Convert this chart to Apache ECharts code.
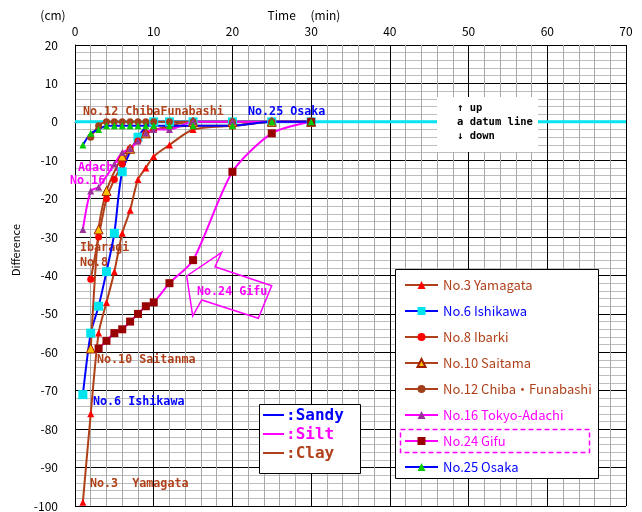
<!DOCTYPE html>
<html>
<head>
<meta charset="utf-8">
<script src="https://cdn.jsdelivr.net/npm/echarts@6/dist/echarts.min.js"></script>
<style>
  html, body { margin: 0; padding: 0; background: #fff; }
  #chart { width: 642px; height: 512px; }
</style>
</head>
<body>
<div id="chart"></div>
<script>
// Recovery of water level (cm, relative to the datum line) over time (min)
const yamagataT = [1, 2, 3, 4, 5, 6, 7, 8, 9, 10, 12, 15, 20, 25, 30];
const yamagataD = [-99, -76, -55, -47, -39, -29, -23, -15, -12, -9, -6, -2, -1, 0, 0];

const ishikawaT = [1, 2, 3, 4, 5, 6, 8, 10, 12, 15, 20, 25, 30];
const ishikawaD = [-71, -55, -48, -39, -29, -13, -4, 0, 0, 0, 0, 0, 0];

const ibarakiT = [2, 3, 4, 5, 6, 7, 8, 9, 10, 15, 20, 25, 30];
const ibarakiD = [-41, -30, -20, -15, -11, -7, -5, -3, -2, -1, -1, 0, 0];

const saitamaT = [2, 3, 4, 6, 7, 9, 15, 20, 25, 30];
const saitamaD = [-59, -28, -18, -9, -7, -3, 0, 0, 0, 0];

const chibaT = [2, 3, 4, 5, 6, 7, 8, 9, 10, 12, 15, 20, 25, 30];
const chibaD = [-4, -1, 0, 0, 0, 0, 0, 0, 0, 0, 0, 0, 0, 0];

const adachiT = [1, 2, 3, 5, 6, 7, 8, 9, 10, 12, 15, 20, 25, 30];
const adachiD = [-28, -18, -17, -11, -8, -7, -5, -3, -2, -2, 0, 0, 0, 0];

const gifuT = [3, 4, 5, 6, 7, 8, 9, 10, 12, 15, 20, 25, 30];
const gifuD = [-59, -57, -55, -54, -52, -50, -48, -47, -42, -36, -13, -3, 0];

const osakaT = [1, 2, 3, 4, 5, 6, 7, 8, 9, 10, 12, 15, 20, 25, 30];
const osakaD = [-6, -3, -2, -1, -1, -1, -1, -1, -1, -1, -1, -1, -1, 0, 0];

const legendNames = ['No.3 Yamagata', 'No.6 Ishikawa', 'No.8 Ibarki', 'No.10 Saitama',
  'No.12 Chiba\u30FBFunabashi', 'No.16 Tokyo-Adachi', 'No.24 Gifu', 'No.25 Osaka'];

const datumT = [0, 70];
const datumD = [0, 0];

const BROWN = '#b0401a';
const BLUE = '#0000ff';
const MAGENTA = '#ff00ff';
const CYAN = '#00e4f0';

function pairs(t, d) { return t.map((v, i) => [v, d[i]]); }

function lineSeries(name, t, d, lineColor, symbol, symbolSize, fill, border) {
  return {
    name: name,
    type: 'line',
    data: pairs(t, d),
    smooth: 0.25,
    symbol: symbol,
    symbolSize: symbolSize,
    lineStyle: { color: lineColor, width: 2 },
    itemStyle: { color: fill, borderColor: border || fill, borderWidth: border ? 1 : 0 },
    emphasis: { disabled: true },
    animation: false
  };
}

const chart = echarts.init(document.getElementById('chart'), null, { renderer: 'canvas' });

const FONT = '"Noto Sans CJK JP", "Noto Sans", sans-serif';
const MONO = '"DejaVu Sans Mono", monospace';

function label(text, x, y, color, size, font) {
  return {
    type: 'text', x: x, y: y, z: 1,
    style: { text: text, fill: color, font: 'bold ' + (size || 12) + 'px ' + (font || MONO), textVerticalAlign: 'middle' }
  };
}

const option = {
  backgroundColor: '#fff',
  animation: false,
  grid: { left: 75, right: 16, top: 45, bottom: 5, containLabel: false },
  xAxis: {
    type: 'value', position: 'top', min: 0, max: 70, interval: 10,
    axisLine: { show: true, lineStyle: { color: '#000', width: 1 } },
    axisTick: { show: false },
    axisLabel: { color: '#000', fontSize: 12, fontFamily: FONT, margin: 8 },
    splitLine: { show: true, lineStyle: { color: '#000', width: 1 } },
    minorTick: { show: false, splitNumber: 5 },
    minorSplitLine: { show: true, lineStyle: { color: '#a8a8a8', width: 1 } }
  },
  yAxis: {
    type: 'value', min: -100, max: 20, interval: 10,
    axisLine: { show: true, lineStyle: { color: '#000', width: 1 } },
    axisTick: { show: false },
    axisLabel: { color: '#000', fontSize: 12, fontFamily: FONT, margin: 17 },
    splitLine: { show: true, lineStyle: { color: '#000', width: 1 } },
    minorTick: { show: false, splitNumber: 5 },
    minorSplitLine: { show: true, lineStyle: { color: '#bdbdbd', width: 1 } }
  },
  legend: {
    data: [
      { name: legendNames[0], textStyle: { color: BROWN } },
      { name: legendNames[1], textStyle: { color: BLUE } },
      { name: legendNames[2], textStyle: { color: BROWN } },
      { name: legendNames[3], textStyle: { color: BROWN } },
      { name: legendNames[4], textStyle: { color: BROWN } },
      { name: legendNames[5], textStyle: { color: MAGENTA } },
      { name: legendNames[6], textStyle: { color: MAGENTA } },
      { name: legendNames[7], textStyle: { color: BLUE } }
    ],
    orient: 'vertical',
    left: 404, top: 277,
    padding: 0,
    itemWidth: 33, itemHeight: 10, itemGap: 10,
    selectedMode: false,
    textStyle: { fontSize: 13, fontFamily: FONT, lineHeight: 16 },
    z: 10
  },
  graphic: [
    // legend frame
    { type: 'rect', z: 8, shape: { x: 395.5, y: 269.5, width: 203, height: 209 },
      style: { fill: '#fff', stroke: '#000', lineWidth: 1 } },
    { type: 'rect', z: 12, shape: { x: 400.5, y: 429.5, width: 189, height: 23 },
      style: { fill: 'none', stroke: MAGENTA, lineWidth: 1.5, lineDash: [5, 3] } },

    // soil type key
    { type: 'rect', z: 8, shape: { x: 259.5, y: 404.5, width: 101, height: 69 },
      style: { fill: '#fff', stroke: '#000', lineWidth: 1 } },
    { type: 'line', z: 9, shape: { x1: 263, y1: 415, x2: 284, y2: 415 }, style: { stroke: BLUE, lineWidth: 2 } },
    { type: 'line', z: 9, shape: { x1: 263, y1: 434, x2: 284, y2: 434 }, style: { stroke: MAGENTA, lineWidth: 2 } },
    { type: 'line', z: 9, shape: { x1: 263, y1: 453, x2: 284, y2: 453 }, style: { stroke: BROWN, lineWidth: 2 } },
    Object.assign(label(':Sandy', 286, 416, BLUE, 16), { z: 9 }),
    Object.assign(label(':Silt', 286, 435, MAGENTA, 16), { z: 9 }),
    Object.assign(label(':Clay', 286, 454, BROWN, 16), { z: 9 }),

    // datum line note
    { type: 'rect', z: 8, shape: { x: 437, y: 97, width: 101, height: 55 }, style: { fill: '#fff' } },
    Object.assign(label('\u2191 up', 457, 108, '#000', 10.5), { z: 9 }),
    Object.assign(label('a datum line', 457, 122, '#000', 10.5), { z: 9 }),
    Object.assign(label('\u2193 down', 457, 136, '#000', 10.5), { z: 9 }),

    // axis captions
    { type: 'text', x: 53, y: 15, style: { text: '(cm)', fill: '#000', font: '12px ' + FONT, textAlign: 'center', textVerticalAlign: 'middle' } },
    { type: 'text', x: 304, y: 15, style: { text: 'Time\u3000 (min)', fill: '#000', font: '12px ' + FONT, textAlign: 'center', textVerticalAlign: 'middle' } },
    { type: 'text', x: 16, y: 250, rotation: Math.PI / 2,
      style: { text: 'Difference', fill: '#000', font: '11px ' + FONT, textAlign: 'center', textVerticalAlign: 'middle' } },

    // site annotations
    label('No.12 ChibaFunabashi', 83, 112, BROWN, 11.7),
    label('No.25 Osaka', 248, 112, BLUE, 11.7),
    label('Adachi', 78, 168, MAGENTA, 11.7),
    label('No.16', 70, 181, MAGENTA, 11.7),
    label('Ibaragi', 80, 248, BROWN, 11.7),
    label('No.8', 80, 263, BROWN, 11.7),
    label('No.10 Saitanma', 97, 360, BROWN, 11.7),
    label('No.6 Ishikawa', 93, 402, BLUE, 11.7),
    label('No.3  Yamagata', 90, 484, BROWN, 11.7),

    // Gifu callout arrow
    { type: 'polygon', z: 3,
      shape: { points: [[221.7, 252.3], [215, 266.7], [271.7, 285.7], [258.3, 318.3], [201.7, 300], [192.7, 316], [186.7, 276]] },
      style: { fill: 'none', stroke: MAGENTA, lineWidth: 1.5 } },
    Object.assign(label('No.24 Gifu', 197, 292, MAGENTA, 11.7), { z: 3 })
  ],
  series: [
    {
      name: 'datum', type: 'line', data: pairs(datumT, datumD), symbol: 'none', z: 1,
      lineStyle: { color: CYAN, width: 3 }, emphasis: { disabled: true }, silent: true
    },
    lineSeries(legendNames[0], yamagataT, yamagataD, BROWN, 'triangle', 7, '#ff0000'),
    lineSeries(legendNames[1], ishikawaT, ishikawaD, BLUE, 'rect', 9, CYAN),
    lineSeries(legendNames[2], ibarakiT, ibarakiD, BROWN, 'circle', 7, '#ff0000'),
    lineSeries(legendNames[3], saitamaT, saitamaD, BROWN, 'triangle', 9, '#ffc000', '#a02000'),
    lineSeries(legendNames[4], chibaT, chibaD, BROWN, 'circle', 7, '#a0401a'),
    lineSeries(legendNames[5], adachiT, adachiD, MAGENTA, 'triangle', 7, '#993399'),
    lineSeries(legendNames[6], gifuT, gifuD, MAGENTA, 'rect', 8, '#990000'),
    lineSeries(legendNames[7], osakaT, osakaD, BLUE, 'triangle', 7, '#00cc00')
  ]
};

chart.setOption(option);
</script>
</body>
</html>
